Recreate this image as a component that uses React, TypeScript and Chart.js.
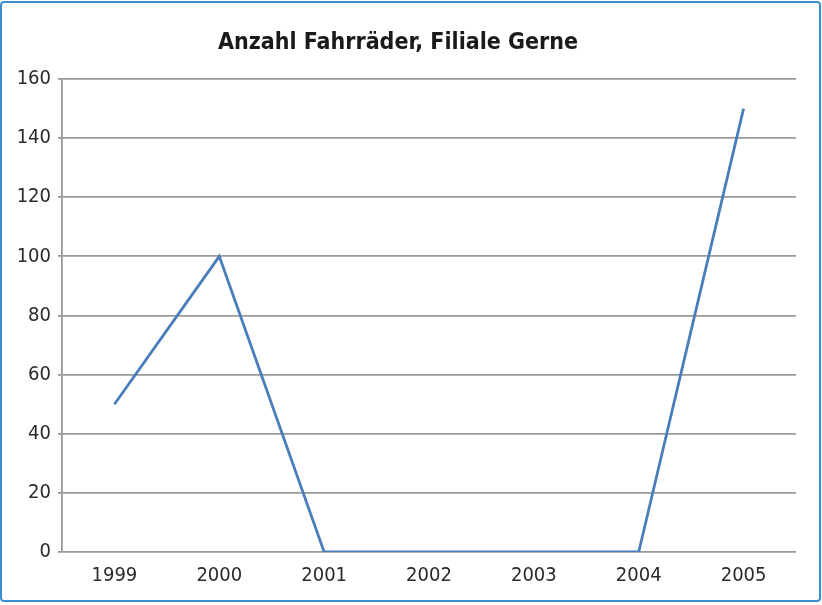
import React, { useEffect, useRef } from "react";
import { Chart, registerables } from "chart.js";

Chart.register(...registerables);

const categories = ["1999", "2000", "2001", "2002", "2003", "2004", "2005"];
const values = [50, 100, 0, 0, 0, 0, 150];
const yTicks = [0, 20, 40, 60, 80, 100, 120, 140, 160];
const title = "Anzahl Fahrräder, Filiale Gerne";

export default function App() {
  const ref = useRef<HTMLCanvasElement | null>(null);

  useEffect(() => {
    document.body.style.margin = "0";
    const ctx = ref.current!;
    const chart = new Chart(ctx, {
      type: "line",
      data: {
        labels: categories,
        datasets: [
          {
            data: values,
            borderColor: "#4a7ebb",
            borderWidth: 2.8,
            pointRadius: 0,
            tension: 0,
            fill: false,
          },
        ],
      },
      options: {
        animation: false,
        responsive: false,
        layout: { padding: { left: 0, right: 26, top: 0, bottom: 13 } },
        plugins: {
          legend: { display: false },
          tooltip: { enabled: false },
          title: {
            display: true,
            text: title,
            color: "#1a1a1a",
            font: { family: "DejaVu Sans Condensed", size: 23, weight: "bold", lineHeight: 1.2 },
            padding: { top: 29, bottom: 22.4 },
          },
        },
        scales: {
          x: {
            type: "category",
            offset: true,
            grid: { display: false, drawTicks: false },
            border: { display: false },
            ticks: {
              color: "#2a2a2a",
              font: { family: "DejaVu Sans Condensed", size: 20 },
              padding: 12,
            },
            afterFit: (s: any) => {
              s.height = 40;
            },
          },
          y: {
            min: 0,
            max: 160,
            afterBuildTicks: (s: any) => {
              s.ticks = yTicks.map((v) => ({ value: v }));
            },
            grid: { color: "#999999", lineWidth: 1.8, tickLength: 4 },
            border: { display: true, color: "#999999", width: 1.8 },
            ticks: {
              color: "#2a2a2a",
              font: { family: "DejaVu Sans Condensed", size: 20 },
              padding: 7,
            },
            afterFit: (s: any) => {
              s.width = 62;
            },
          },
        },
      },
    });
    return () => chart.destroy();
  }, []);

  return (
    <div style={{ position: "relative", width: 822, height: 605 }}>
      <canvas ref={ref} width={822} height={605} style={{ display: "block" }} />
      <div
        style={{
          position: "absolute",
          left: 0,
          top: 1,
          width: 821,
          height: 601,
          boxSizing: "border-box",
          border: "2.5px solid #3b8fcf",
          borderRadius: 4,
          pointerEvents: "none",
        }}
      />
    </div>
  );
}
